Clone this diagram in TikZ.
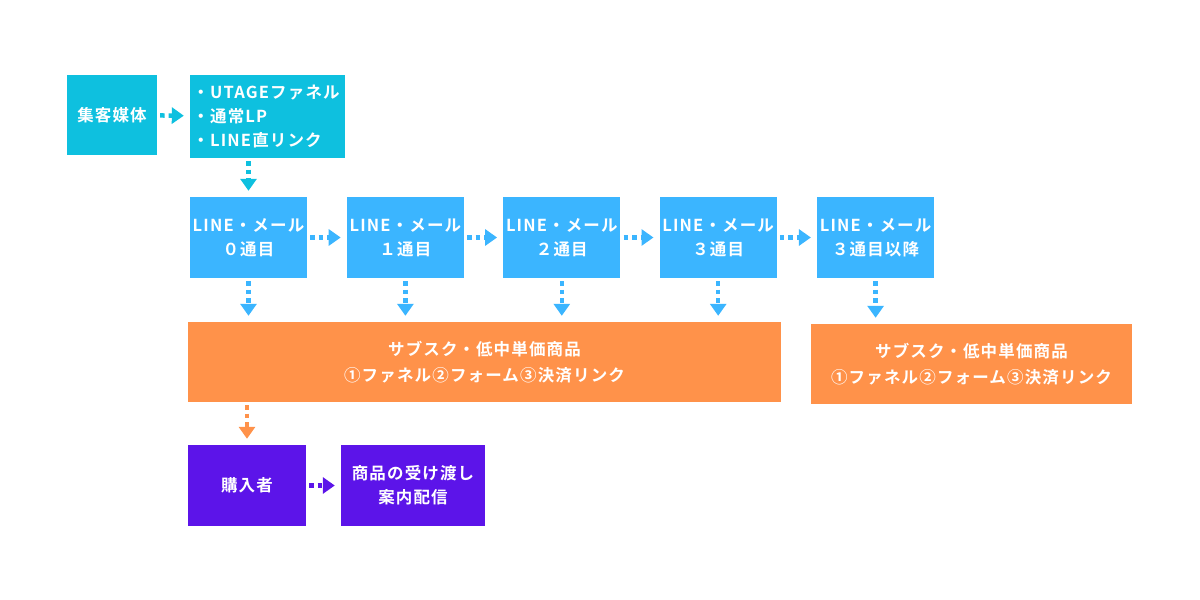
\documentclass[tikz,border=0pt]{standalone}
\usepackage{fontspec}
\setmainfont{Noto Sans CJK JP}[BoldFont={Noto Sans CJK JP Bold},LetterSpace=7]
\usetikzlibrary{arrows.meta,positioning}
\definecolor{mediacyan}{RGB}{14,192,223}
\definecolor{lineblue}{RGB}{59,181,255}
\definecolor{offerorange}{RGB}{255,146,74}
\definecolor{buyerpurple}{RGB}{92,20,233}
\tikzset{
	box/.style={
		fill=#1,
		text=white,
		font=\bfseries\fontsize{16.5}{24}\selectfont,
		align=center,
		inner sep=0pt
	},
	flow/.style={
		#1,
		line width=4.5pt,
		dash pattern=on 4.5pt off 4pt,
		-{Triangle[width=16pt,length=12pt]},
		shorten <=3pt,
		shorten >=6pt
	}
}

\begin{document}
\begin{tikzpicture}[x=1pt,y=-1pt]
		
		\useasboundingbox (0,0) rectangle (1200,600);
		
		\node[
		box=mediacyan,
		minimum width=90pt,
		minimum height=80pt
		] (media) at (112,115)
		{集客媒体};
		
		\node[
		box=mediacyan,
		align=left,
		text width=150pt,
		inner xsep=2.5pt,
		minimum height=83pt
		] (entry) at (267.5,116.5)
		{・UTAGEファネル\\
			・通常LP\\
			・LINE直リンク};
		
		% LINE / mail steps
		\node[
		box=lineblue,
		minimum width=117pt,
		minimum height=81pt
		] (line0) at (248.5,237.5)
		{LINE・メール\\０通目};
		
		\node[
		box=lineblue,
		minimum width=117pt,
		minimum height=81pt,
		right=39.5pt of line0
		] (line1)
		{LINE・メール\\１通目};
		
		\node[
		box=lineblue,
		minimum width=117pt,
		minimum height=81pt,
		right=39pt of line1
		] (line2)
		{LINE・メール\\２通目};
		
		\node[
		box=lineblue,
		minimum width=117pt,
		minimum height=81pt,
		right=39pt of line2
		] (line3)
		{LINE・メール\\３通目};
		
		\node[
		box=lineblue,
		minimum width=117pt,
		minimum height=81pt,
		right=40pt of line3
		] (line4)
		{LINE・メール\\３通目以降};
		
		% offers
		\node[
		box=offerorange,
		minimum width=593pt,
		minimum height=80pt,
		font=\bfseries\fontsize{16.5}{26}\selectfont
		] (offer) at (484.5,362)
		{サブスク・低中単価商品\\
			①ファネル②フォーム③決済リンク};
		
		\node[
		box=offerorange,
		minimum width=321pt,
		minimum height=80pt,
		font=\bfseries\fontsize{16.5}{26}\selectfont
		] (offerlate) at (971.5,364)
		{サブスク・低中単価商品\\
			①ファネル②フォーム③決済リンク};
		
		% buyers
		\node[
		box=buyerpurple,
		minimum width=118pt,
		minimum height=81pt
		] (buyer) at (247,485.5)
		{購入者};
		
		\node[
		box=buyerpurple,
		minimum width=144pt,
		minimum height=81pt
		] (delivery) at (413,485.5)
		{商品の受け渡し\\案内配信};
		
		\draw[flow=mediacyan] (media) -- (entry);
		\draw[flow=mediacyan] (entry.south -| line0) -- (line0);
		
		\draw[flow=lineblue] (line0) -- (line1);
		\draw[flow=lineblue] (line1) -- (line2);
		\draw[flow=lineblue] (line2) -- (line3);
		\draw[flow=lineblue] (line3) -- (line4);
		
		\draw[flow=lineblue] (line0) -- (line0 |- offer.north);
		\draw[flow=lineblue] (line1) -- (line1 |- offer.north);
		\draw[flow=lineblue] (line2) -- (line2 |- offer.north);
		\draw[flow=lineblue] (line3) -- (line3 |- offer.north);
		\draw[flow=lineblue] (line4) -- (line4 |- offerlate.north);
		
		\draw[flow=offerorange] (offer.south -| buyer) -- (buyer);
		\draw[flow=buyerpurple] (buyer) -- (delivery);
		
	\end{tikzpicture}
\end{document}
